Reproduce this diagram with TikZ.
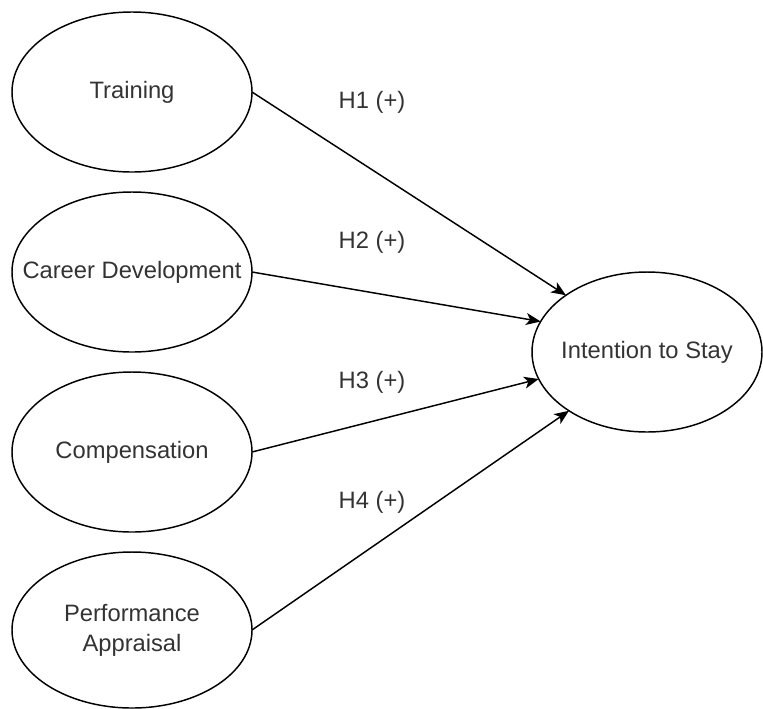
\documentclass[tikz,border=0pt]{standalone}
\usepackage{fontspec}
\setmainfont{Liberation Sans}
\usetikzlibrary{shapes.geometric,arrows.meta}
\definecolor{txt}{RGB}{51,51,51}
\begin{document}
\begin{tikzpicture}[x=0.75pt,y=-0.75pt,
  oval/.style={ellipse,draw=black,line width=1.1pt,inner sep=0pt,outer sep=0pt,
    minimum width=180pt,minimum height=120pt,align=center,
    font=\fontsize{17.8}{22.5}\selectfont,text=txt},
  hlabel/.style={font=\fontsize{17.8}{21}\selectfont,text=txt,inner sep=0pt},
  link/.style={draw=black,line width=1.1pt,-{Stealth[length=11pt,width=9pt,inset=3pt]}}]
\useasboundingbox (0,0) rectangle (763,708);
\node[oval] (tr) at (132,92) {Training};
\node[oval] (cd) at (132,272) {\makebox[0pt]{Career Development}};
\node[oval] (co) at (132,452) {Compensation};
\node[oval,minimum height=117pt] (pa) at (132,630) {\makebox[0pt]{Performance}\\\makebox[0pt]{Appraisal}};
\node[oval,minimum width=172.5pt] (is) at (647,352) {\makebox[0pt]{Intention to Stay}};
\node[hlabel] (h1) at (372,102) {H1 (+)};
\node[hlabel] (h2) at (372,242) {H2 (+)};
\node[hlabel] (h3) at (372,382) {H3 (+)};
\node[hlabel] (h4) at (372,502) {H4 (+)};
\draw[link] (tr.east) -- (is.145);
\draw[link] (cd.east) -- (is.164);
\draw[link] (co.east) -- (is.194);
\draw[link] (pa.east) -- (is.217);
\end{tikzpicture}
\end{document}
